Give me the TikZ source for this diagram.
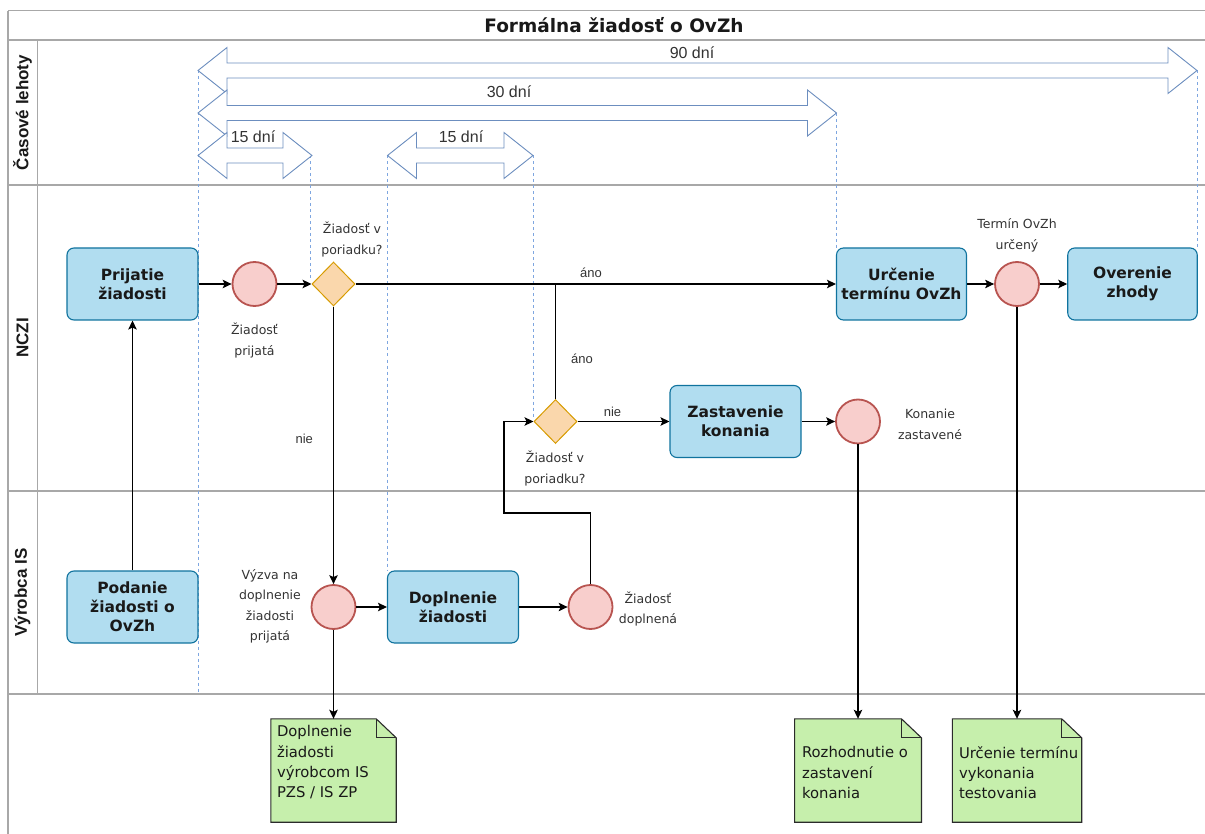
\documentclass[tikz,border=0pt]{standalone}
\usepackage{fontspec}
\setmainfont{DejaVu Sans}
\newfontfamily\arialf{Liberation Sans}
\usetikzlibrary{arrows.meta,shapes.geometric}

\definecolor{taskfill}{HTML}{B1DDF0}
\definecolor{taskline}{HTML}{10739E}
\definecolor{evfill}{HTML}{F8CECC}
\definecolor{evline}{HTML}{B85450}
\definecolor{gatefill}{HTML}{FAD7AC}
\definecolor{gateline}{HTML}{D79B00}
\definecolor{docfill}{HTML}{C6EFAC}
\definecolor{docline}{HTML}{2B2B2B}
\definecolor{lanegray}{HTML}{A8A8A8}
\definecolor{spanblue}{HTML}{6C8EBF}
\definecolor{guideblue}{HTML}{7EA6E0}
\definecolor{labeltext}{HTML}{333333}

% time spans: double block arrows (#1 left tip, #2 right tip, #3 centre line)
\newcommand{\timespan}[3]{%
  \path[span] (#1,#3) -- (#1+29,#3-23) -- (#1+29,#3-7.5) -- (#2-29,#3-7.5) -- (#2-29,#3-23)
    -- (#2,#3) -- (#2-29,#3+23) -- (#2-29,#3+7.5) -- (#1+29,#3+7.5) -- (#1+29,#3+23) -- cycle;}

\begin{document}
\begin{tikzpicture}[x=1pt,y=-1pt,
  lane/.style={draw=lanegray, line width=1.3pt},
  lanetitle/.style={rotate=90, font=\arialf\bfseries\fontsize{17}{20}\selectfont, text=black!90},
  task/.style={rectangle, rounded corners=7pt, draw=taskline, fill=taskfill, line width=1.1pt,
    minimum width=131pt, minimum height=72pt, inner sep=2pt, align=center,
    font=\bfseries\fontsize{15.5}{19}\selectfont, text=black!90},
  evt/.style={circle, draw=evline, fill=evfill, line width=1.8pt, minimum size=44pt, inner sep=0pt},
  gate/.style={diamond, draw=gateline, fill=gatefill, line width=1pt, minimum width=43pt, minimum height=44pt, inner sep=0pt},
  docbox/.style={rectangle, minimum width=126pt, minimum height=103pt, inner sep=0pt},
  doctext/.style={anchor=west, align=left, font=\fontsize{14.8}{20.3}\selectfont, text=black!90},
  small/.style={align=center, font=\fontsize{12.5}{20.5}\selectfont, text=labeltext},
  lbl/.style={font=\arialf\fontsize{13}{15}\selectfont, text=labeltext, inner sep=1pt},
  spanlbl/.style={font=\arialf\fontsize{16}{18}\selectfont, text=labeltext},
  span/.style={draw=spanblue, fill=white, line width=0.9pt, line join=miter},
  guide/.style={draw=guideblue, line width=1pt, dash pattern=on 3pt off 3pt},
  flow/.style={draw=black, line width=1.2pt, -{Stealth[length=9pt,width=8.5pt,inset=2pt]}},
  plain/.style={draw=black, line width=1.2pt}
]
\useasboundingbox (0,0) rectangle (1205,834);

% pool frame and lanes
\draw[lane] (8,10.7) -- (1205,10.7);
\draw[lane] (8,40) -- (1205,40);
\draw[lane] (8,185) -- (1205,185);
\draw[lane] (8,491) -- (1205,491);
\draw[lane] (8,694) -- (1205,694);
\draw[lane] (8,10.7) -- (8,834);
\draw[lane] (37.5,40) -- (37.5,694);

\node[font=\bfseries\fontsize{18.5}{22}\selectfont, text=black!90] (title) at (614,25.5) {Formálna žiadosť o OvZh};
\node[lanetitle] (l1) at (22.5,112.5) {Časové lehoty};
\node[lanetitle] (l2) at (22.5,338) {NCZI};
\node[lanetitle] (l3) at (22.5,592.5) {Výrobca IS};

% guide lines
\draw[guide] (198,70.5) -- (198,694);
\draw[guide] (1197,70.5) -- (1197,248);
\draw[guide] (836.5,113) -- (836.5,248);
\draw[guide] (310.5,155.5) -- (310.5,280);
\draw[guide] (387.5,155.5) -- (387.5,571);
\draw[guide] (533,155.5) -- (533,418);

\timespan{198}{1197}{70.5}
\timespan{198}{836.5}{113}
\timespan{198}{312}{155.5}
\timespan{387.5}{533}{155.5}

\node[spanlbl] (s90) at (692,53) {90 dní};
\node[spanlbl] (s30) at (509,92) {30 dní};
\node[spanlbl] (s15a) at (253,137) {15 dní};
\node[spanlbl] (s15b) at (461,137) {15 dní};

% tasks
\node[task] (prij) at (132.5,284) {Prijatie\\žiadosti};
\node[task] (podanie) at (132.5,607) {Podanie\\žiadosti o\\OvZh};
\node[task] (dopl) at (453,607) {Doplnenie\\žiadosti};
\node[task, minimum width=130pt] (urc) at (901.5,284) {Určenie\\termínu OvZh};
\node[task, minimum width=129.5pt] (over) at (1132.5,284) {Overenie\\zhody};
\node[task] (zast) at (735.5,421.5) {Zastavenie\\konania};

% events
\node[evt] (e1) at (254.5,284) {};
\node[evt] (e2) at (333.5,607) {};
\node[evt] (e3) at (590.5,607) {};
\node[evt] (e4) at (858,421.5) {};
\node[evt] (e5) at (1017,284) {};

% gateways
\node[gate] (g1) at (333.5,284) {};
\node[gate] (g2) at (555.5,421.5) {};

% labels of events and gateways
\node[small] (e1t) at (254.5,340.5) {Žiadosť\\prijatá};
\node[small] (e2t) at (270,606.5) {Výzva na\\doplnenie\\žiadosti\\prijatá};
\node[small] (e3t) at (648,609) {Žiadosť\\doplnená};
\node[small] (e4t) at (930,424.5) {Konanie\\zastavené};
\node[small] (e5t) at (1017,235.5) {Termín OvZh\\určený};
\node[small] (g1t) at (352,239.5) {Žiadosť v\\poriadku?};
\node[small] (g2t) at (555,468.5) {Žiadosť v\\poriadku?};

% documents
\node[docbox, minimum width=125pt] (d1) at (333.5,770.5) {};
\node[docbox, minimum width=126.5pt] (d2) at (858,770.5) {};
\node[docbox, minimum width=129pt] (d3) at (1017,770.5) {};
\foreach \d in {d1,d2,d3}{
  \path[draw=docline, fill=docfill, line width=1.1pt, line join=miter]
    (\d.north west) -- ([xshift=-20pt]\d.north east) -- ([yshift=-19pt]\d.north east)
    -- (\d.south east) -- (\d.south west) -- cycle;
  \path[draw=docline, line width=1.1pt, line join=miter]
    ([xshift=-20pt]\d.north east) -- ([xshift=-20pt,yshift=-19pt]\d.north east) -- ([yshift=-19pt]\d.north east);
}
\node[doctext] (d1t) at (273.5,762.5) {Doplnenie\\žiadosti\\výrobcom IS\\PZS / IS ZP};
\node[doctext] (d2t) at (798.5,772.7) {Rozhodnutie o\\zastavení\\konania};
\node[doctext] (d3t) at (955.5,772.7) {Určenie termínu\\vykonania\\testovania};

% sequence flows
\draw[flow] (podanie) -- (prij);
\draw[flow] (prij) -- (e1);
\draw[flow] (e1) -- (g1);
\draw[flow] (g1) -- node[lbl, pos=0.49, above=5pt] (ano1) {áno} (urc);
\draw[flow] (g1) -- node[lbl, pos=0.477, left=19pt] (nie1) {nie} (e2);
\draw[flow] (e2) -- (dopl);
\draw[flow] (dopl) -- (e3);
\coordinate (back) at (504,513);
\draw[flow] (e3.north) |- (back) |- (g2.west);
\draw[plain] (g2.north) -- node[lbl, pos=0.35, right=14pt] (ano2) {áno} (g2.north |- g1.east);
\draw[flow] (g2) -- node[lbl, pos=0.38, above=3pt] (nie2) {nie} (zast);
\draw[flow] (zast) -- (e4);
\draw[flow] (urc) -- (e5);
\draw[flow] (e5) -- (over);
\draw[flow] (e2) -- (d1);
\draw[flow] (e4) -- (d2);
\draw[flow] (e5) -- (d3);
\end{tikzpicture}
\end{document}
